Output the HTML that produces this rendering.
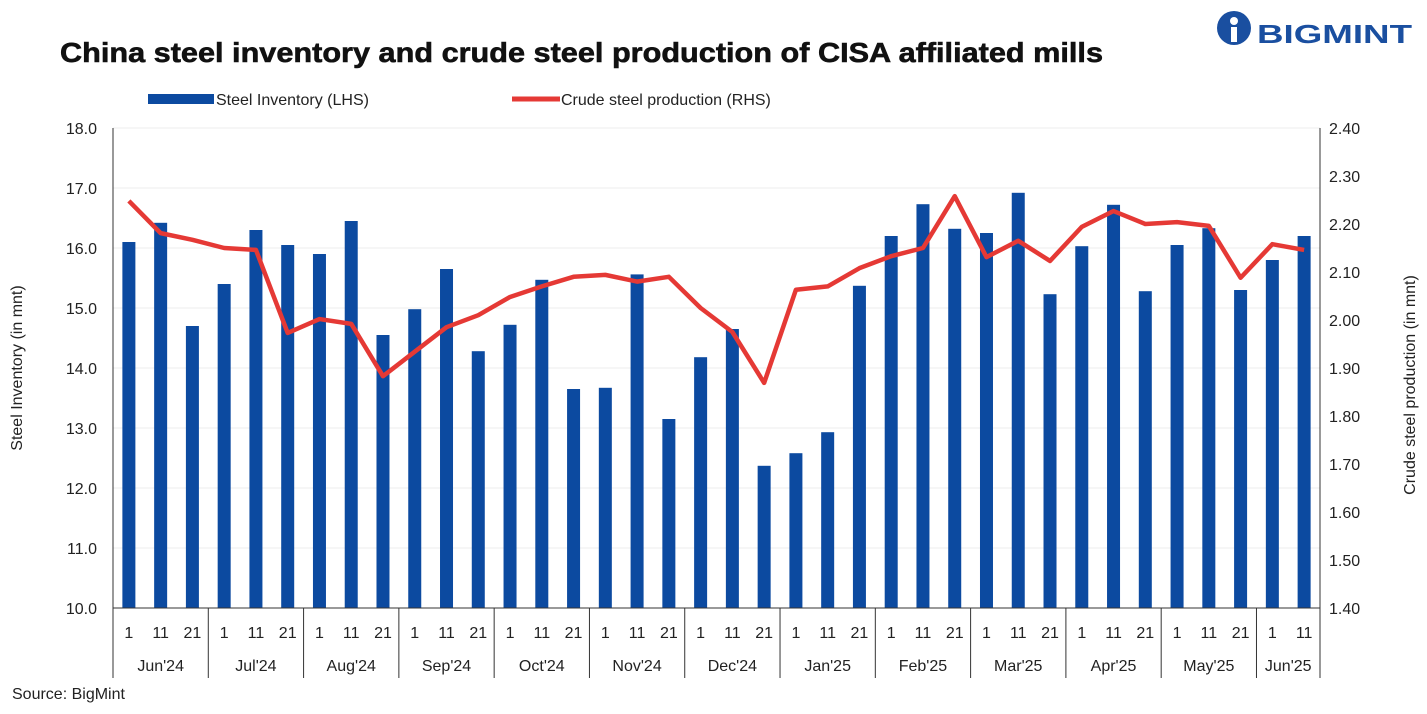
<!DOCTYPE html>
<html><head><meta charset="utf-8"><style>
body{margin:0;background:#fff;font-family:"Liberation Sans",sans-serif}
svg text{font-family:"Liberation Sans",sans-serif}
</style></head><body>
<svg id="c" width="1427" height="709" xmlns="http://www.w3.org/2000/svg">
<text x="60" y="62" font-size="28" font-weight="bold" fill="#111" textLength="1043" lengthAdjust="spacingAndGlyphs" stroke="#111" stroke-width="0.6">China steel inventory and crude steel production of CISA affiliated mills</text>
<g>
<circle cx="1234" cy="28" r="17" fill="#1a4fa0"/>
<circle cx="1234" cy="21" r="4" fill="#fff"/>
<rect x="1231" y="27" width="6" height="15" fill="#fff"/>
<text x="1257" y="43" font-size="26" font-weight="bold" fill="#1a4fa0" textLength="155" lengthAdjust="spacingAndGlyphs">BIGMINT</text>
</g>
<g>
<rect x="148" y="94" width="66" height="10" fill="#0c4aa0"/>
<text x="216" y="105" font-size="16" fill="#222">Steel Inventory (LHS)</text>
<line x1="512" y1="99" x2="560" y2="99" stroke="#e53935" stroke-width="5"/>
<text x="561" y="105" font-size="16" fill="#222">Crude steel production (RHS)</text>
</g>
<text transform="translate(22,368) rotate(-90)" text-anchor="middle" font-size="16" fill="#222">Steel Inventory (in mnt)</text>
<text transform="translate(1415,385) rotate(-90)" text-anchor="middle" font-size="16" fill="#222">Crude steel production (in mnt)</text>
<text x="12" y="699" font-size="16" fill="#222">Source: BigMint</text>
<g id="plot"></g>
</svg>
<script>
const months=["Jun'24","Jul'24","Aug'24","Sep'24","Oct'24","Nov'24","Dec'24","Jan'25","Feb'25","Mar'25","Apr'25","May'25","Jun'25"];
const days=["1","11","21"];
const inventory=[16.1,16.42,14.7,15.4,16.3,16.05,15.9,16.45,14.55,14.98,15.65,14.28,14.72,15.47,13.65,13.67,15.56,13.15,14.18,14.65,12.37,12.58,12.93,15.37,16.2,16.73,16.32,16.25,16.92,15.23,16.03,16.72,15.28,16.05,16.33,15.3,15.8,16.2];
const production=[2.248,2.181,2.167,2.15,2.146,1.973,2.002,1.992,1.883,1.934,1.985,2.01,2.048,2.07,2.09,2.094,2.08,2.09,2.025,1.975,1.869,2.063,2.07,2.108,2.133,2.15,2.258,2.131,2.165,2.123,2.194,2.227,2.2,2.204,2.196,2.088,2.158,2.146];
const leftTicks=[10,11,12,13,14,15,16,17,18];
const rightTicks=[1.4,1.5,1.6,1.7,1.8,1.9,2.0,2.1,2.2,2.3,2.4];
const NS="http://www.w3.org/2000/svg";
const g=document.getElementById('plot');
const X0=113,X1=1320,YT=128,YB=608;
const n=inventory.length,cw=(X1-X0)/n;
const yL=v=>YB-(v-10)/8*(YB-YT);
const yR=v=>YB-(v-1.4)/1.0*(YB-YT);
const xC=i=>X0+cw*(i+0.5);
function mk(t,a){const e=document.createElementNS(NS,t);for(const k in a)e.setAttribute(k,a[k]);g.appendChild(e);return e;}
leftTicks.forEach((v,i)=>{
 const l=mk('line',{x1:X0,x2:X1,y1:yL(v),y2:yL(v),stroke:'#ececec'});
 
 
 const t=mk('text',{x:X0-16,y:yL(v)+6,'text-anchor':'end','font-size':16,fill:'#222'});t.textContent=v.toFixed(1);
 
 
});
rightTicks.forEach(v=>{
 const t=mk('text',{x:X1+9,y:yR(v)+6,'font-size':16,fill:'#222'});t.textContent=v.toFixed(2);
 
 
});
inventory.forEach((v,i)=>{
 const b=mk('rect',{x:xC(i)-6.5,y:yL(v),width:13,height:YB-yL(v),fill:'#0c4aa0'});
 
 
 const t=mk('text',{x:xC(i),y:638,'text-anchor':'middle','font-size':16,fill:'#222'});t.textContent=days[i%3];
 
 
});
const ax=mk('line',{x1:X0,x2:X0,y1:YT,y2:YB,stroke:'#333'});


const ax2=mk('line',{x1:X1,x2:X1,y1:YT,y2:YB,stroke:'#333'});


const xa=mk('line',{x1:X0,x2:X1,y1:YB,y2:YB,stroke:'#333'});


months.forEach((m,k)=>{
 const s=k*3,e=Math.min(n,s+3);
 const sep=mk('line',{x1:X0+cw*s,x2:X0+cw*s,y1:YB,y2:678,stroke:'#333'});
 
 
 const t=mk('text',{x:X0+cw*(s+e)/2,y:671,'text-anchor':'middle','font-size':16,fill:'#222'});t.textContent=m;
 
 
});
const se=mk('line',{x1:X1,x2:X1,y1:YB,y2:678,stroke:'#333'});


const p=mk('polyline',{points:production.map((v,i)=>xC(i)+','+yR(v)).join(' '),fill:'none',stroke:'#e53935','stroke-width':4.5,'stroke-linejoin':'round'});


</script>
</body></html>
